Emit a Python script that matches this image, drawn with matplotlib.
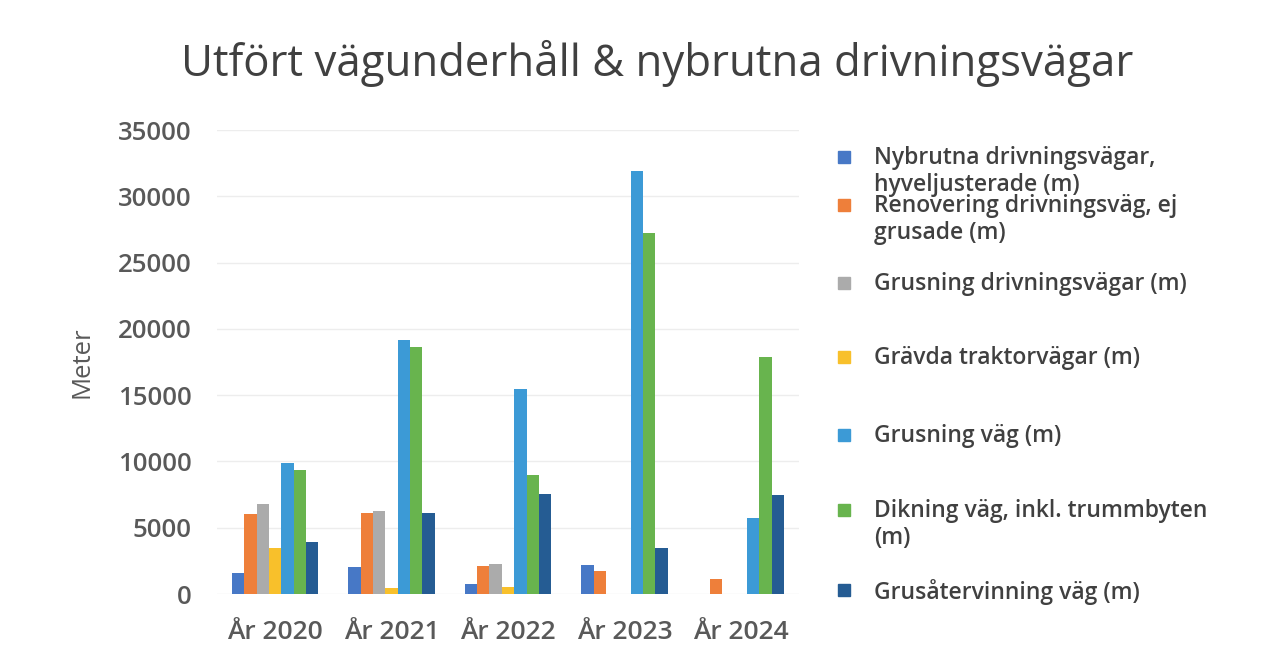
import matplotlib
matplotlib.use("Agg")
import matplotlib.pyplot as plt
import numpy as np

categories = ["År 2020", "År 2021", "År 2022", "År 2023", "År 2024"]
series_names = [
    "Nybrutna drivningsvägar,\nhyveljusterade (m)",
    "Renovering drivningsväg, ej\ngrusade (m)",
    "Grusning drivningsvägar (m)",
    "Grävda traktorvägar (m)",
    "Grusning väg (m)",
    "Dikning väg, inkl. trummbyten\n(m)",
    "Grusåtervinning väg (m)",
]
nybrutna = [1600, 2000, 750, 2200, 0]
renovering = [6000, 6100, 2100, 1700, 1100]
grusning_driv = [6800, 6250, 2250, 0, 0]
gravda = [3500, 450, 500, 0, 0]
grusning_vag = [9900, 19150, 15500, 31900, 5700]
dikning = [9350, 18600, 8950, 27200, 17900]
grusatervinning = [3950, 6100, 7550, 3450, 7450]
values = [nybrutna, renovering, grusning_driv, gravda, grusning_vag, dikning, grusatervinning]
colors = ["#4778C6", "#EE7F3A", "#ABABAB", "#F8C02B", "#3C9AD6", "#68B44E", "#255C93"]
yticks = [0, 5000, 10000, 15000, 20000, 25000, 30000, 35000]

FONT = ["Open Sans", "DejaVu Sans"]
plt.rcParams["font.family"] = FONT

fig = plt.figure(figsize=(12.64, 6.6), dpi=100)
fig.patch.set_facecolor("white")
ax = fig.add_axes([217 / 1264, 1 - 594 / 660, (799 - 217) / 1264, (594 - 130) / 660])

x = np.arange(len(categories))
bw = 0.106
n = len(values)
for i, (vals, c) in enumerate(zip(values, colors)):
    ax.bar(x + (i - (n - 1) / 2) * bw, vals, width=bw, color=c, edgecolor="none", zorder=2)

ax.set_xlim(-0.5, len(categories) - 0.5)
ax.set_ylim(0, 35000)
ax.set_yticks(yticks)
ax.set_yticklabels([str(v) for v in yticks])
ax.set_xticks(x)
ax.set_xticklabels(categories)
ax.tick_params(axis="both", length=0, colors="#595959")
ax.tick_params(axis="y", pad=18, labelsize=18.5)
ax.tick_params(axis="x", pad=19, labelsize=19)
for lbl in ax.get_xticklabels() + ax.get_yticklabels():
    lbl.set_fontweight("semibold")
ax.grid(axis="y", color="#EDEDED", linewidth=1.0, zorder=0)
for s in ax.spines.values():
    s.set_visible(False)
ax.set_ylabel("Meter", fontsize=18.5, color="#595959", labelpad=17)

fig.text(657 / 1264, 1 - 63 / 660, "Utfört vägunderhåll & nybrutna drivningsvägar",
         ha="center", va="center", fontsize=31.5, color="#404040")

# manual legend
leg_y = [157, 205, 283, 357, 435, 510, 590]
for name, c, yy in zip(series_names, colors, leg_y):
    fig.patches.append(plt.Rectangle((838 / 1264, 1 - (yy + 6) / 660), 12 / 1264, 12 / 660,
                                     transform=fig.transFigure, color=c, figure=fig))
    fig.text(874 / 1264, 1 - (yy - 11) / 660, name, ha="left", va="top", fontsize=16.5,
             color="#404040", fontweight="semibold", linespacing=1.17)

fig.savefig("out.png", dpi=100, facecolor="white")
